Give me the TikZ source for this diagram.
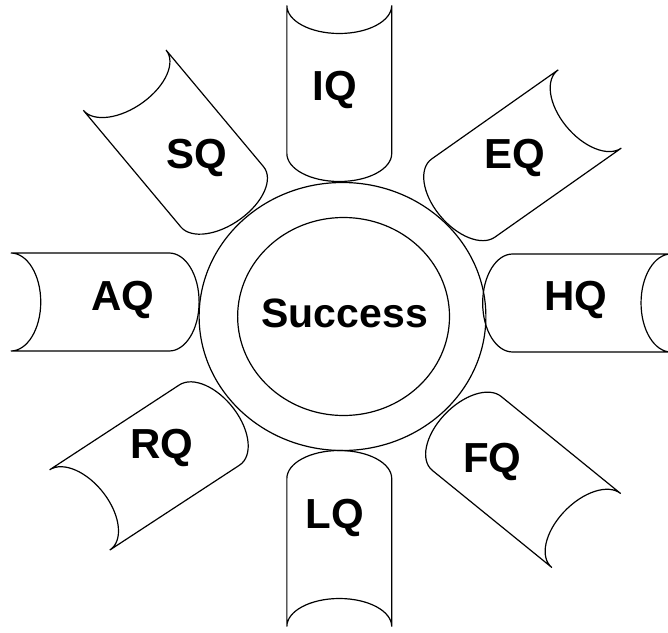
\documentclass[tikz,border=0pt]{standalone}
\usepackage{fontspec}
\setmainfont{Liberation Sans}
\tikzset{
	petal/.style={line width=1.2pt},
	qlabel/.style={font=\fontsize{42}{50}\selectfont\bfseries, inner sep=0pt}
}

\begin{document}
\begin{tikzpicture}[x=1pt,y=1pt]
	\useasboundingbox (-342.5,-315.5) rectangle (325.5,316.5);
	\begin{scope}[xscale=1.07]
	% hub: two rings
	\draw[petal] (0,0) circle[radius=134];
	\draw[petal] (1,0) circle[radius=99];
	\node[qlabel,font=\fontsize{41}{49}\selectfont\bfseries] (success) at (2,3.5) {Success};
	% the eight Q petals: name / centre / turn / label position
	\foreach \n/\x/\y/\r/\lx/\ly in {IQ/-3/237/90/-7/226.5, EQ/172/163/37/161/158.5,
		HQ/233/13.5/0/218/16.5, FQ/172/-165.5/-41/140/-145.5, LQ/-3/-236/-90/-7/-201.5,
		RQ/-185/-151/215/-169/-131.5, SQ/-158/178/128/-136/158.5, AQ/-236/14.5/180/-205/16.5} {
		\draw[petal,shift={(\x,\y)},rotate=\r] (-74,49) -- (74,49)
			arc[start angle=90,end angle=270,x radius=28,y radius=49]
			-- (-74,-49) arc[start angle=270,end angle=90,x radius=28,y radius=49] -- cycle;
		\node[qlabel] (\n) at (\lx,\ly) {\n};}
	\end{scope}
\end{tikzpicture}
\end{document}
